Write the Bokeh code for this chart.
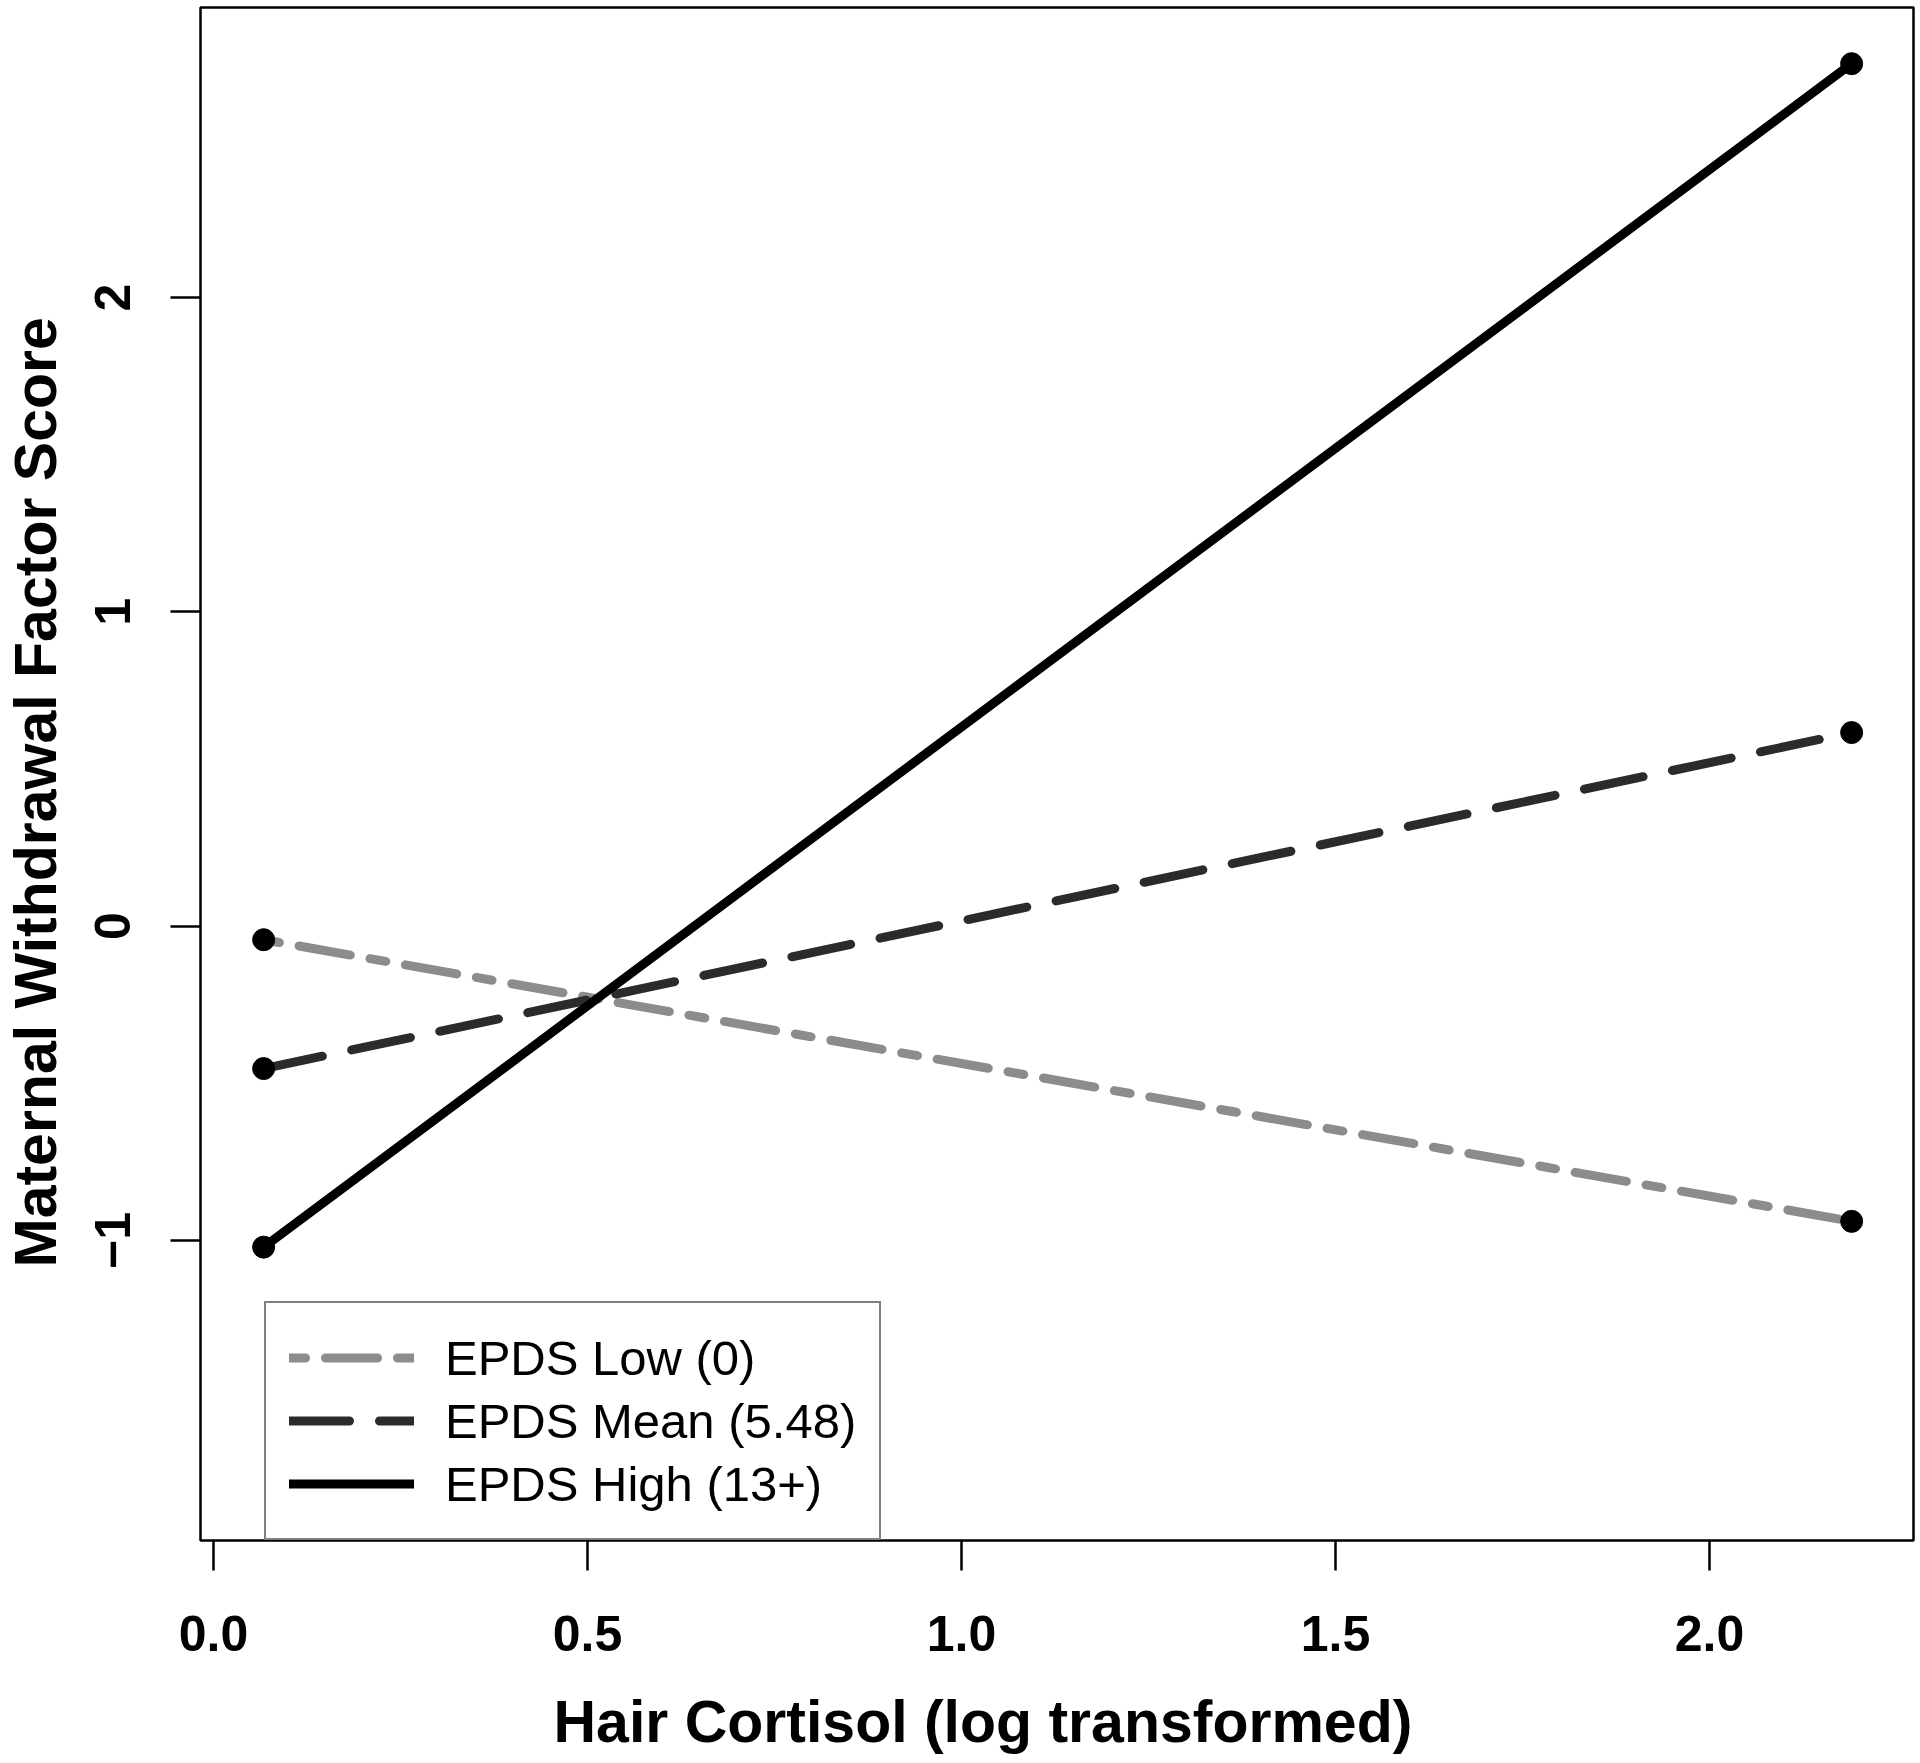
from bokeh.plotting import figure
from bokeh.models import Range1d, FixedTicker, Legend, LegendItem, Title
from bokeh.embed import file_html
from bokeh.resources import INLINE

# Data
cortisol = [0.067, 2.19]
low_vals = [-0.043, -0.939]
mean_vals = [-0.453, 0.616]
high_vals = [-1.021, 2.744]
series_names = ["EPDS Low (0)", "EPDS Mean (5.48)", "EPDS High (13+)"]
x_ticks = [0.0, 0.5, 1.0, 1.5, 2.0]
x_tick_labels = ["0.0", "0.5", "1.0", "1.5", "2.0"]
y_ticks = [-1, 0, 1, 2]
y_tick_labels = ["\u22121", "0", "1", "2"]
x_title = "Hair Cortisol (log transformed)"
y_title = "Maternal Withdrawal Factor Score"

FONT = "Liberation Sans"

p = figure(width=1920, height=1763, output_backend="svg", toolbar_location=None,
           x_range=Range1d(-0.0174, 2.2727), y_range=Range1d(-1.9543, 2.9227),
           min_border_left=200, min_border_right=7, min_border_top=7, min_border_bottom=223)

p.background_fill_color = "white"
p.border_fill_color = "white"
p.outline_line_color = "black"
p.outline_line_width = 2.5
p.xgrid.visible = False
p.ygrid.visible = False

r_low = p.line(cortisol, low_vals, line_color="#8c8c8c", line_width=9,
               line_dash="16 20 52 20", line_cap="round")
r_mean = p.line(cortisol, mean_vals, line_color="#2b2b2b", line_width=9,
                line_dash="60 30", line_cap="round")
r_high = p.line(cortisol, high_vals, line_color="black", line_width=9, line_cap="round")

for vals in (low_vals, mean_vals, high_vals):
    p.scatter(cortisol, vals, size=22, fill_color="black", line_color="black")

for ax in (p.xaxis[0], p.yaxis[0]):
    ax.axis_line_color = None
    ax.major_tick_line_color = "black"
    ax.major_tick_line_width = 2.5
    ax.major_tick_out = 30
    ax.major_tick_in = 0
    ax.minor_tick_line_color = None
    ax.major_label_text_font = FONT
    ax.major_label_text_font_style = "bold"
    ax.major_label_text_font_size = "50px"
    ax.major_label_text_color = "black"

p.xaxis.ticker = FixedTicker(ticks=x_ticks)
p.xaxis.major_label_overrides = dict(zip(x_ticks, x_tick_labels))
p.yaxis.ticker = FixedTicker(ticks=y_ticks)
p.yaxis.major_label_orientation = "vertical"
p.yaxis.major_label_overrides = dict(zip(y_ticks, y_tick_labels))
p.xaxis.major_label_standoff = 45
p.yaxis.major_label_standoff = 40

# spacer panels between the tick labels and the axis titles
p.add_layout(Title(text=" ", text_font_size="1px", standoff=30), "below")
p.add_layout(Title(text=" ", text_font_size="1px", standoff=21), "left")

# Axis titles as side-panel titles (offset along the axis as in the reference)
p.add_layout(Title(text=x_title, align="left", offset=353, standoff=0,
                   vertical_align="bottom",
                   text_font=FONT, text_font_style="bold", text_font_size="59px",
                   text_color="black"), "below")
p.add_layout(Title(text=y_title, align="left", offset=273, standoff=0,
                   vertical_align="bottom",
                   text_font=FONT, text_font_style="bold", text_font_size="59px",
                   text_color="black"), "left")

legend = Legend(items=[LegendItem(label=series_names[0], renderers=[r_low]),
                       LegendItem(label=series_names[1], renderers=[r_mean]),
                       LegendItem(label=series_names[2], renderers=[r_high])],
                location=(64, 0), margin=0, padding=23, spacing=0,
                glyph_width=125, glyph_height=63, label_height=63,
                label_standoff=31,
                label_text_font=FONT, label_text_font_size="49px",
                label_text_color="black",
                border_line_color="black", border_line_width=2.5,
                background_fill_color="white", background_fill_alpha=1.0)
p.add_layout(legend, "center")

open("out.html", "w").write(file_html(p, INLINE))
